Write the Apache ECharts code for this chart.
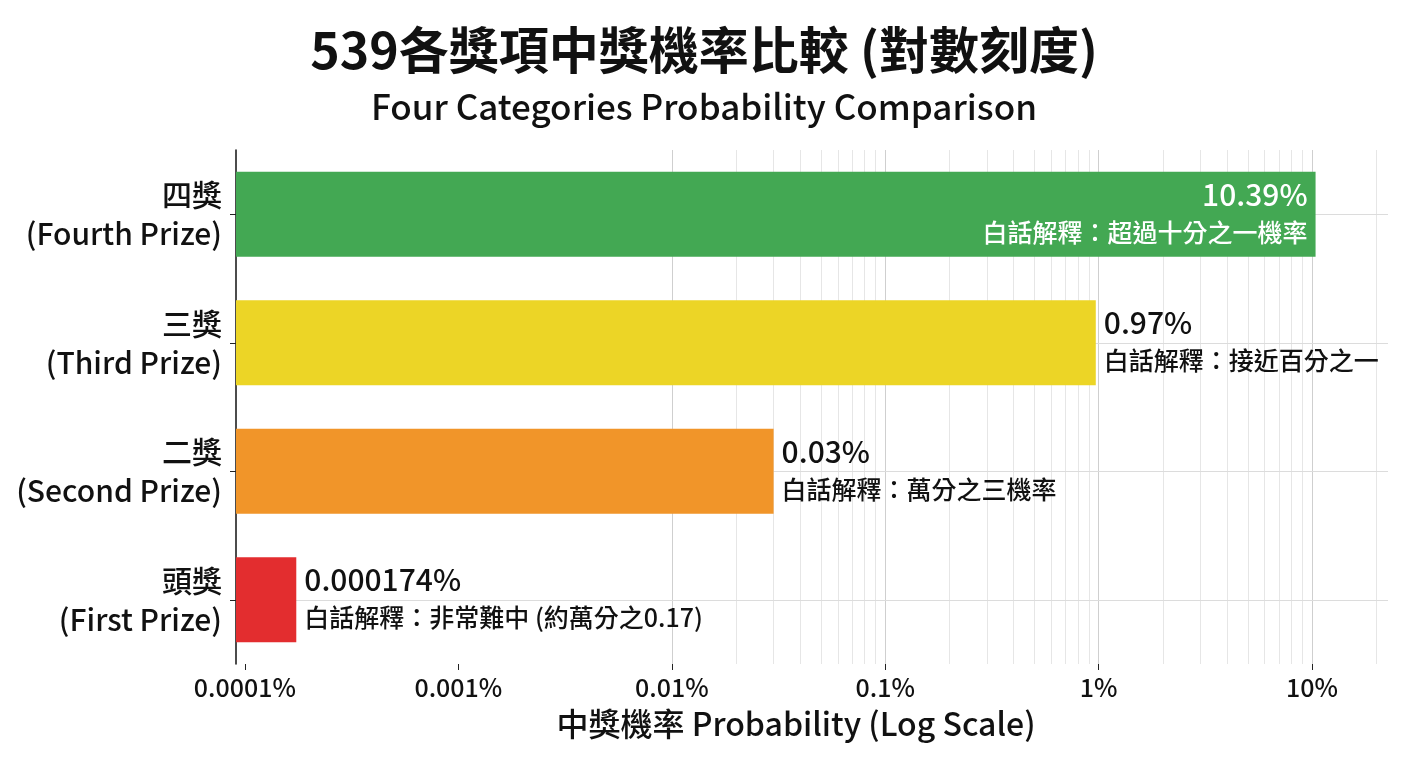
<html>
<head>
    <meta charset="utf-8" />
    <style>
        html, body { margin: 0; padding: 0; background: #fff; }
        #chart { width: 1408px; height: 768px; }
    </style>
    <script src="https://cdn.jsdelivr.net/npm/echarts@6/dist/echarts.min.js"></script>
</head>
<body>
    <div id="chart"></div>
    <script type="text/javascript">
        // 獎項 (top to bottom)
        var cnNames = ['四獎', '三獎', '二獎', '頭獎'];
        var enNames = ['(Fourth Prize)', '(Third Prize)', '(Second Prize)', '(First Prize)'];
        // 中獎機率, in percent
        var probs = [10.39, 0.97, 0.03, 0.000174];
        var notes = [
            '白話解釋：超過十分之一機率',
            '白話解釋：接近百分之一',
            '白話解釋：萬分之三機率',
            '白話解釋：非常難中 (約萬分之0.17)'
        ];
        var barColors = ['#43a853', '#ecd526', '#f19529', '#e32d2f'];
        // vertical grid lines: 1..9 in every decade
        var decades = [0.0001, 0.001, 0.01, 0.1, 1, 10];
        var steps = [1, 2, 3, 4, 5, 6, 7, 8, 9];

        var FONT = '"Noto Sans CJK TC", "Noto Sans CJK SC", sans-serif';
        var X_MIN = 0.0000908, X_MAX = 22.7;

        var categories = cnNames.map(function (n, i) { return n + '\n' + enNames[i]; });

        var vLines = [];
        decades.forEach(function (d) {
            steps.forEach(function (s) {
                var v = +(d * s).toPrecision(6);
                if (v > X_MIN && v < X_MAX) {
                    vLines.push({
                        xAxis: v,
                        lineStyle: { color: s === 1 ? '#cfcfcf' : '#e6e6e6', width: 1, type: 'solid' }
                    });
                }
            });
        });
        var hLines = categories.map(function (c) {
            return { yAxis: c, lineStyle: { color: '#dcdcdc', width: 1, type: 'solid' } };
        });

        var barData = probs.map(function (p, i) {
            var inside = i === 0;
            var col = inside ? '#fff' : '#111';
            var al = inside ? 'right' : 'left';
            return {
                value: p,
                itemStyle: { color: barColors[i] },
                label: {
                    show: true,
                    position: inside ? 'insideRight' : 'right',
                    distance: 8,
                    align: al,
                    formatter: '{v|' + p + '%}\n{d|' + notes[i] + '}',
                    rich: {
                        v: { fontFamily: FONT, fontSize: 30, fontWeight: 500, lineHeight: 36, color: col, align: al },
                        d: { fontFamily: FONT, fontSize: 25, fontWeight: 500, lineHeight: 40, color: col, align: al }
                    }
                }
            };
        });

        var chart = echarts.init(document.getElementById('chart'));
        var option = {
            backgroundColor: '#fff',
            animation: false,
            title: [
                {
                    text: '539各獎項中獎機率比較 (對數刻度)',
                    left: 'center',
                    top: 20,
                    textStyle: { fontFamily: FONT, fontSize: 50, fontWeight: 'bold', color: '#111' }
                },
                {
                    text: 'Four Categories Probability Comparison',
                    left: 'center',
                    top: 84,
                    textStyle: { fontFamily: FONT, fontSize: 35, fontWeight: 500, color: '#111' }
                }
            ],
            grid: {
                left: 236,
                right: 20,
                top: 150,
                bottom: 104,
                containLabel: false,
                outerBoundsMode: 'none'
            },
            xAxis: {
                type: 'log',
                logBase: 10,
                min: X_MIN,
                max: X_MAX,
                startValue: X_MIN,
                name: '中獎機率 Probability (Log Scale)',
                nameLocation: 'middle',
                nameGap: 44,
                nameTextStyle: { fontFamily: FONT, fontSize: 32, fontWeight: 500, color: '#111', padding: [0, 32, 0, 0] },
                axisLine: { show: false },
                axisTick: { show: true, length: 6, lineStyle: { color: '#222' } },
                axisLabel: {
                    fontFamily: FONT, fontSize: 25, fontWeight: 500, color: '#111', margin: 11,
                    showMinLabel: false, showMaxLabel: false,
                    formatter: function (v) {
                        var e = Math.round(Math.log10(v));
                        var s = e < 0 ? Math.pow(10, e).toFixed(-e) : Math.pow(10, e).toFixed(0);
                        return s + '%';
                    }
                },
                splitLine: { show: false },
                minorTick: { show: false },
                minorSplitLine: { show: false }
            },
            yAxis: {
                type: 'category',
                inverse: true,
                data: categories,
                axisLine: { show: true, lineStyle: { color: '#111', width: 1.5 } },
                axisTick: { show: true, alignWithLabel: true, length: 6, lineStyle: { color: '#222' } },
                axisLabel: {
                    fontFamily: FONT, fontSize: 30, fontWeight: 500, lineHeight: 39, color: '#111', margin: 14, align: 'right',
                    padding: [6, 0, 0, 0]
                },
                splitLine: { show: false }
            },
            series: [
                {
                    type: 'bar',
                    data: barData,
                    barWidth: 85,
                    z: 3,
                    markLine: {
                        z: 1,
                        silent: true,
                        symbol: 'none',
                        label: { show: false },
                        animation: false,
                        data: vLines.concat(hLines)
                    }
                }
            ]
        };
        chart.setOption(option);
    </script>
</body>
</html>
